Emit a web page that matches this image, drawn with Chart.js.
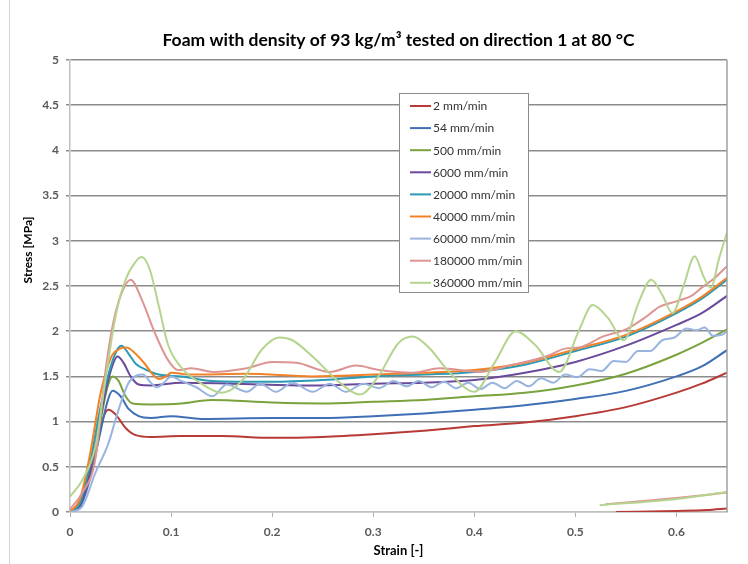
<!DOCTYPE html>
<html>
<head>
<meta charset="utf-8">
<script src="https://cdn.jsdelivr.net/npm/chart.js@4.4.1/dist/chart.umd.min.js"></script>
<style>
  html, body { margin: 0; padding: 0; background: #ffffff; }
  #wrap { width: 748px; height: 564px; position: relative; }
</style>
</head>
<body>
<div id="wrap"><canvas id="c" width="748" height="564"></canvas></div>
<script>
// ---- DATA (strain [-], stress [MPa]) ----
const chartTitle = 'Foam with density of 93 kg/m³ tested on direction 1 at 80 °C';
const xTitle = 'Strain [-]';
const yTitle = 'Stress [MPa]';
const xTicks = [0, 0.1, 0.2, 0.3, 0.4, 0.5, 0.6];
const yTicks = [0, 0.5, 1, 1.5, 2, 2.5, 3, 3.5, 4, 4.5, 5];
const seriesNames = ['2 mm/min', '54 mm/min', '500 mm/min', '6000 mm/min', '20000 mm/min',
  '40000 mm/min', '60000 mm/min', '180000 mm/min', '360000 mm/min'];

const rate2 = [[0,0],[0.01,0.12],[0.02,0.45],[0.03,0.95],[0.038,1.13],[0.045,1.08],[0.055,0.93],[0.065,0.85],
  [0.08,0.83],[0.11,0.84],[0.15,0.84],[0.2,0.82],[0.25,0.83],[0.3,0.86],[0.35,0.9],[0.4,0.95],[0.45,0.99],
  [0.5,1.06],[0.55,1.16],[0.6,1.32],[0.625,1.42],[0.65,1.54],
  [0.6,null],[0.54,0],[0.6,0.012],[0.63,0.022],[0.65,0.04]];
const rate54 = [[0,0],[0.01,0.06],[0.02,0.38],[0.03,0.88],[0.037,1.22],[0.042,1.34],[0.05,1.28],[0.058,1.14],
  [0.068,1.06],[0.08,1.04],[0.1,1.06],[0.13,1.03],[0.2,1.04],[0.25,1.04],[0.3,1.06],[0.35,1.09],[0.4,1.13],
  [0.45,1.18],[0.5,1.25],[0.55,1.34],[0.6,1.5],[0.625,1.61],[0.65,1.79]];
const rate500 = [[0,0],[0.01,0.1],[0.02,0.45],[0.03,1.0],[0.037,1.38],[0.042,1.5],[0.048,1.45],[0.055,1.28],
  [0.062,1.2],[0.08,1.19],[0.11,1.2],[0.14,1.24],[0.2,1.21],[0.25,1.2],[0.3,1.22],[0.35,1.24],[0.4,1.28],
  [0.45,1.32],[0.5,1.4],[0.55,1.53],[0.6,1.74],[0.625,1.87],[0.65,2.02]];
const rate6000 = [[0,0],[0.01,0.08],[0.02,0.45],[0.03,1.05],[0.04,1.55],[0.047,1.72],[0.053,1.65],[0.06,1.5],
  [0.068,1.41],[0.08,1.4],[0.11,1.43],[0.16,1.42],[0.24,1.4],[0.3,1.42],[0.35,1.43],[0.4,1.46],[0.45,1.54],
  [0.5,1.66],[0.55,1.84],[0.6,2.07],[0.625,2.2],[0.65,2.39]];
const rate20000 = [[0,0],[0.01,0.1],[0.02,0.55],[0.03,1.15],[0.04,1.6],[0.047,1.8],[0.051,1.84],[0.058,1.75],
  [0.065,1.64],[0.076,1.57],[0.088,1.52],[0.11,1.5],[0.14,1.45],[0.2,1.44],[0.25,1.46],[0.3,1.5],[0.35,1.52],
  [0.4,1.55],[0.45,1.63],[0.5,1.78],[0.55,1.94],[0.6,2.2],[0.625,2.36],[0.65,2.57]];
const rate40000 = [[0,0],[0.01,0.15],[0.02,0.65],[0.03,1.3],[0.037,1.6],[0.042,1.74],[0.05,1.81],[0.056,1.82],
  [0.064,1.76],[0.074,1.64],[0.082,1.52],[0.088,1.47],[0.095,1.5],[0.1,1.54],[0.12,1.52],[0.175,1.53],
  [0.24,1.5],[0.3,1.52],[0.35,1.54],[0.4,1.57],[0.45,1.65],[0.5,1.8],[0.55,1.96],[0.6,2.22],[0.625,2.38],[0.65,2.59]];
const rate60000 = [[0,0],[0.012,0.06],[0.025,0.43],[0.038,0.76],[0.048,1.13],[0.058,1.43],[0.066,1.51],
  [0.072,1.52],[0.08,1.43],[0.086,1.38],[0.093,1.43],[0.1,1.5],[0.11,1.45],[0.125,1.38],[0.141,1.28],
  [0.155,1.41],[0.175,1.33],[0.188,1.42],[0.204,1.33],[0.22,1.43],[0.24,1.33],[0.257,1.42],[0.273,1.33],
  [0.29,1.42],[0.306,1.37],[0.32,1.45],[0.333,1.39],[0.345,1.45],[0.358,1.38],[0.37,1.44],[0.382,1.37],
  [0.394,1.43],[0.406,1.36],[0.418,1.43],[0.43,1.37],[0.442,1.45],[0.454,1.39],[0.466,1.48],[0.478,1.43],
  [0.49,1.52],[0.502,1.49],[0.514,1.58],[0.526,1.56],[0.538,1.67],[0.55,1.66],[0.562,1.78],[0.574,1.78],
  [0.586,1.9],[0.598,1.93],[0.61,2.03],[0.62,2.01],[0.628,2.04],[0.636,1.95],[0.645,1.96],[0.65,2.0]];
const rate180000 = [[0,0.03],[0.012,0.21],[0.025,0.58],[0.035,1.55],[0.042,2.05],[0.051,2.42],[0.06,2.57],
  [0.071,2.35],[0.084,1.98],[0.097,1.68],[0.107,1.57],[0.12,1.59],[0.141,1.55],[0.175,1.59],[0.2,1.66],
  [0.224,1.65],[0.257,1.55],[0.283,1.62],[0.306,1.57],[0.339,1.54],[0.366,1.59],[0.405,1.55],[0.438,1.63],
  [0.471,1.72],[0.491,1.81],[0.504,1.82],[0.527,1.94],[0.55,2.02],[0.57,2.16],[0.583,2.27],[0.6,2.33],
  [0.616,2.4],[0.626,2.49],[0.639,2.6],[0.65,2.72],
  [0.6,null],[0.53,0.085],[0.6,0.155],[0.65,0.215]];
const rate360000 = [[0,0.17],[0.012,0.35],[0.025,0.72],[0.035,1.46],[0.045,2.16],[0.055,2.57],[0.065,2.77],
  [0.071,2.82],[0.079,2.68],[0.088,2.27],[0.097,1.85],[0.11,1.6],[0.13,1.42],[0.15,1.32],[0.17,1.45],
  [0.19,1.8],[0.207,1.93],[0.22,1.9],[0.24,1.72],[0.265,1.45],[0.287,1.3],[0.305,1.5],[0.325,1.87],
  [0.339,1.94],[0.355,1.82],[0.375,1.55],[0.4,1.33],[0.42,1.65],[0.441,2.0],[0.46,1.85],[0.484,1.55],
  [0.504,2.02],[0.517,2.29],[0.532,2.15],[0.548,1.9],[0.562,2.3],[0.575,2.57],[0.586,2.4],[0.596,2.2],
  [0.607,2.5],[0.618,2.83],[0.627,2.6],[0.634,2.48],[0.642,2.8],[0.65,3.09],
  [0.6,null],[0.524,0.075],[0.6,0.145],[0.65,0.22]];

const seriesData = [rate2, rate54, rate500, rate6000, rate20000, rate40000, rate60000, rate180000, rate360000];
const seriesColors = ['#B83A37', '#3F6FB5', '#7AA33E', '#6A4A9B', '#2B9AB5', '#F28228', '#98B4DF', '#DE9493', '#B5D48E'];

// ---- CHART ----
const FONT = 'Lato, "Liberation Sans", sans-serif';

const overlay = {
  id: 'overlay',
  afterDraw(chart) {
    const ctx = chart.ctx;
    const a = chart.chartArea;
    ctx.save();
    // outer chart border (left edge visible)
    ctx.strokeStyle = '#d4d4d4';
    ctx.lineWidth = 1;
    ctx.beginPath(); ctx.moveTo(9.5, 0); ctx.lineTo(9.5, 564); ctx.stroke();
    // plot area right border
    ctx.strokeStyle = '#a0a0a0';
    ctx.lineWidth = 1.5;
    ctx.beginPath(); ctx.moveTo(a.right, a.top); ctx.lineTo(a.right, a.bottom); ctx.stroke();
    // title
    ctx.fillStyle = '#000000';
    ctx.textAlign = 'center';
    ctx.textBaseline = 'middle';
    ctx.font = 'bold 17.5px ' + FONT;
    ctx.fillText(chartTitle, (a.left + a.right) / 2, 40);
    // y axis title
    ctx.save();
    ctx.translate(28, 250);
    ctx.rotate(-Math.PI / 2);
    ctx.font = 'bold 12px ' + FONT;
    ctx.fillText(yTitle, 0, 0);
    ctx.restore();
    // legend
    const lx = 399.5, ly = 93.5, lw = 129, lh = 199;
    ctx.fillStyle = '#ffffff';
    ctx.fillRect(lx, ly, lw, lh);
    ctx.strokeStyle = '#8c8c8c';
    ctx.lineWidth = 1;
    ctx.strokeRect(lx, ly, lw, lh);
    ctx.textAlign = 'left';
    ctx.font = '12px ' + FONT;
    chart.data.datasets.forEach((ds, i) => {
      const y = 106 + i * 22.1;
      ctx.strokeStyle = ds.borderColor;
      ctx.lineWidth = 2;
      ctx.beginPath(); ctx.moveTo(410, y); ctx.lineTo(431, y); ctx.stroke();
      ctx.fillStyle = '#333333';
      ctx.fillText(ds.label, 433, y + 0.5);
    });
    ctx.restore();
  }
};

const datasets = seriesData.map((pts, i) => ({
  label: seriesNames[i],
  data: pts.map(p => ({ x: p[0], y: p[1] })),
  borderColor: seriesColors[i],
  backgroundColor: seriesColors[i],
  borderWidth: 2,
  pointRadius: 0,
  cubicInterpolationMode: 'monotone',
  fill: false,
  order: seriesData.length - i
}));

new Chart(document.getElementById('c'), {
  type: 'line',
  data: { datasets },
  options: {
    responsive: false,
    animation: false,
    spanGaps: false,
    layout: { padding: { left: 0, right: 21, top: 60, bottom: 0 } },
    plugins: { legend: { display: false }, title: { display: false }, tooltip: { enabled: false } },
    scales: {
      x: {
        type: 'linear',
        min: 0, max: 0.65,
        afterFit: s => { s.height = 52; },
        afterBuildTicks: s => { s.ticks = xTicks.map(v => ({ value: v })); },
        grid: { drawOnChartArea: false, drawTicks: true, tickLength: 5, tickColor: '#b0b0b0' },
        border: { color: '#c0c0c0', width: 1.5 },
        ticks: { padding: 8, color: '#595959', font: { family: FONT, size: 12, weight: 'bold' },
                 callback: v => String(v) },
        title: { display: true, text: xTitle, color: '#000000', font: { family: FONT, size: 13, weight: 'bold' },
                 padding: { top: 0, bottom: 5 } }
      },
      y: {
        type: 'linear',
        min: 0, max: 5,
        afterFit: s => { s.width = 70; },
        afterBuildTicks: s => { s.ticks = yTicks.map(v => ({ value: v })); },
        grid: { drawOnChartArea: true, drawTicks: true, tickLength: 4,
                color: c => (c.tick && c.tick.value === 0) ? '#c0c0c0' : '#8c8c8c',
                tickColor: '#8c8c8c', lineWidth: 1.5 },
        border: { color: '#c0c0c0', width: 1.5 },
        ticks: { padding: 7, color: '#595959', font: { family: FONT, size: 12, weight: 'bold' },
                 callback: v => String(v) }
      }
    }
  },
  plugins: [overlay]
});
</script>
</body>
</html>
